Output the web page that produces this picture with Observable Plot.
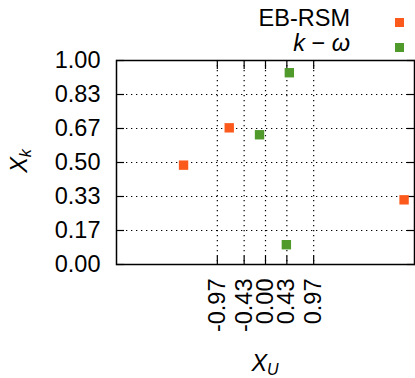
<!DOCTYPE html>
<html><head><meta charset="utf-8">
<script src="https://cdn.jsdelivr.net/npm/d3@7"></script>
<script src="https://cdn.jsdelivr.net/npm/@observablehq/plot@0.6"></script>
<style>
body{margin:0;background:#fff}
#wrap{position:relative;width:415px;height:378px;font-family:"Liberation Sans",sans-serif;overflow:hidden;color:#000}
#wrap svg{position:absolute;left:0;top:0}
.lt{position:absolute;font-size:23.5px;line-height:23.5px;white-space:nowrap;text-align:right}
.sw{position:absolute;width:9px;height:9px}
.al{position:absolute;font-size:23.5px;line-height:23.5px;white-space:nowrap}
.al sub{font-size:16px;vertical-align:baseline;position:relative;top:4px}
</style></head><body><div id="wrap"></div>
<script>
// Series
const seriesNames = ["EB-RSM", "k − ω"];
const seriesColors = ["#fc5a1c", "#4f9a2b"];
const ebX = [-1.65, -0.73, 2.79];
const ebY = [0.487, 0.67, 0.317];
const kwX = [-0.12, 0.48, 0.42];
const kwY = [0.636, 0.94, 0.097];
// Axes
const xTicks = [-0.97, -0.43, 0, 0.43, 0.97];
const xTickLabels = ["-0.97", "-0.43", "0.00", "0.43", "0.97"];
const yTicks = [0, 1/6, 2/6, 3/6, 4/6, 5/6, 1];
const yTickLabels = ["0.00", "0.17", "0.33", "0.50", "0.67", "0.83", "1.00"];
const xDomain = [-3, 3];
const yDomain = [0, 1];

const points = [
  ...ebX.map((x, i) => ({x, y: ebY[i], s: seriesNames[0]})),
  ...kwX.map((x, i) => ({x, y: kwY[i], s: seriesNames[1]}))
];

const gridStyle = {stroke: "#000", strokeOpacity: 1, strokeWidth: 1.2, strokeDasharray: "1.3,3.7"};
const noText = () => "";
const FS = 23.5;

const chart = Plot.plot({
  width: 415, height: 378,
  marginLeft: 116, marginRight: 1, marginTop: 60, marginBottom: 114,
  x: {domain: xDomain}, y: {domain: yDomain},
  color: {domain: seriesNames, range: seriesColors},
  style: {fontFamily: '"Liberation Sans", sans-serif', fontSize: FS + "px", color: "#000", background: "transparent"},
  marks: [
    Plot.gridX(xTicks, gridStyle),
    Plot.gridY(yTicks, gridStyle),
    Plot.axisX(xTicks, {anchor: "bottom", tickSize: 8, dy: -8, tickFormat: noText, label: null, strokeWidth: 1.2}),
    Plot.axisX(xTicks, {anchor: "top", tickSize: 8, dy: 8, tickFormat: noText, label: null, strokeWidth: 1.2}),
    Plot.axisY(yTicks, {anchor: "left", tickSize: 8, dx: 8, tickFormat: noText, label: null, strokeWidth: 1.2}),
    Plot.axisY(yTicks, {anchor: "right", tickSize: 8, dx: -8, tickFormat: noText, label: null, strokeWidth: 1.2}),
    Plot.axisX(xTicks, {anchor: "bottom", tickSize: 0, tickPadding: 14, tickRotate: -90, fontSize: FS,
      tickFormat: d => xTickLabels[xTicks.indexOf(d)], label: null}),
    Plot.axisY(yTicks, {anchor: "left", tickSize: 0, tickPadding: 16, fontSize: FS,
      tickFormat: d => yTickLabels[yTicks.indexOf(d)], label: null}),
    Plot.dot(points, {x: "x", y: "y", fill: "s", symbol: "square", r: 5.3}),
    Plot.frame({stroke: "#000", strokeWidth: 1.5})
  ]
});

const wrap = document.getElementById("wrap");
wrap.appendChild(chart);

// Legend
const legTops = [7, 32];
seriesNames.forEach((name, i) => {
  const t = document.createElement("div");
  t.className = "lt";
  t.style.right = "65px";
  t.style.top = legTops[i] + "px";
  if (i === 1) {
    t.innerHTML = "<i>k</i> − <i>ω</i>";
  } else {
    t.textContent = name;
  }
  wrap.appendChild(t);
  const s = document.createElement("div");
  s.className = "sw";
  s.style.left = "395px";
  s.style.top = (legTops[i] + 11) + "px";
  s.style.background = seriesColors[i];
  wrap.appendChild(s);
});

// Axis labels
const xl = document.createElement("div");
xl.className = "al";
xl.style.left = "265px";
xl.style.top = "352px";
xl.style.transform = "translateX(-50%)";
xl.innerHTML = "<i>X</i><sub><i>U</i></sub>";
wrap.appendChild(xl);

const yl = document.createElement("div");
yl.className = "al";
yl.style.left = "21px";
yl.style.top = "161px";
yl.style.transform = "translate(-50%,-50%) rotate(-90deg)";
yl.innerHTML = "<i>X</i><sub><i>k</i></sub>";
wrap.appendChild(yl);
</script></body></html>
